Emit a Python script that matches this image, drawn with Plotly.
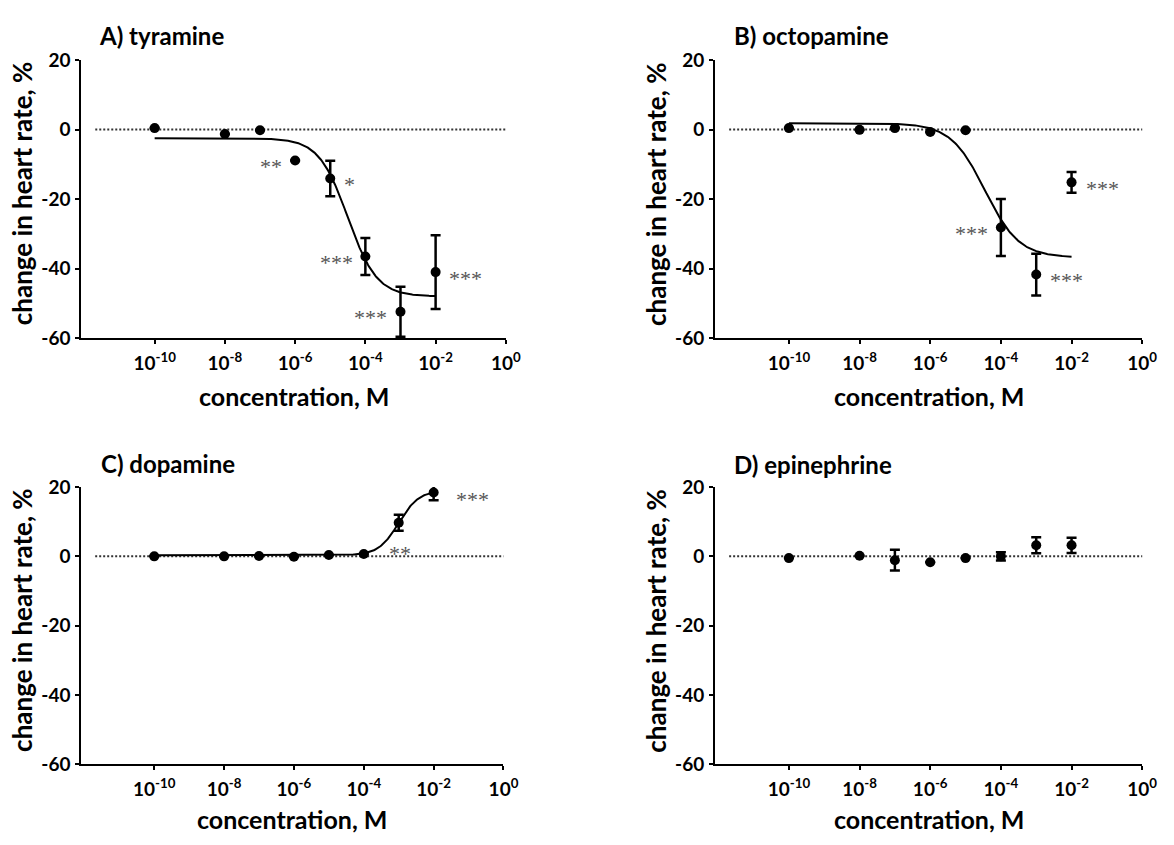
import numpy as np
import plotly.graph_objects as go

# ---------------- data ----------------
conc_log = [-10, -8, -7, -6, -5, -4, -3, -2]          # log10 concentration (M)

tyr_mean = [0.4, -1.3, -0.2, -8.9, -14.1, -36.5, -52.4, -41.0]
tyr_sem  = [0, 0, 0, 0, 5.1, 5.3, 7.2, 10.6]
oct_mean = [0.4, -0.1, 0.4, -0.7, -0.2, -28.2, -41.7, -15.2]
oct_sem  = [0, 0, 0, 0, 0, 8.2, 6.0, 3.0]
dop_mean = [0.0, 0.0, 0.1, -0.1, 0.4, 0.7, 9.7, 18.4]
dop_sem  = [0, 0, 0, 0, 0, 0, 2.3, 2.2]
epi_mean = [-0.5, 0.2, -1.1, -1.7, -0.5, 0.0, 3.2, 3.2]
epi_sem  = [0, 0, 3.0, 0, 0, 1.2, 2.3, 2.2]

# fitted dose-response: [left asymptote, right asymptote, logEC50, hill slope]
tyr_fit = [-2.5, -48.0, -4.5, 1.05]
oct_fit = [1.8, -36.8, -4.45, 0.9]
dop_fit = [0.3, 19.0, -3.0, 1.5]
fit_range = [-10, -2]

# significance labels: (log conc, y, text)
tyr_sig = [(-6.69, -8.9, "**"), (-4.46, -14.1, "*"), (-4.82, -36.5, "***"),
           (-3.86, -52.4, "***"), (-1.15, -41.0, "***")]
oct_sig = [(-1.12, -15.2, "***"), (-4.84, -28.2, "***"), (-2.14, -41.7, "***")]
dop_sig = [(-2.97, 2.5, "**"), (-0.88, 18.0, "***")]
epi_sig = []

panel_titles = ["A) tyramine", "B) octopamine", "C) dopamine", "D) epinephrine"]
tick_logs = [-10, -8, -6, -4, -2, 0]
y_ticks = [20, 0, -20, -40, -60]
x_title = "concentration, M"
y_title = "change in heart rate, %"

# ---------------- layout geometry (pixels) ----------------
W, H = 1174, 845
FONT = "Lato"
panels = [
    dict(mean=tyr_mean, sem=tyr_sem, fit=tyr_fit, sig=tyr_sig,
         x0=82.3, x1=512.4, y0=49.3, y1=335.3, tx=98, ty=23.7, xty=395),
    dict(mean=oct_mean, sem=oct_sem, fit=oct_fit, sig=oct_sig,
         x0=724.3, x1=1157.0, y0=49.3, y1=335.3, tx=741.5, ty=23.7, xty=395),
    dict(mean=dop_mean, sem=dop_sem, fit=dop_fit, sig=dop_sig,
         x0=82.3, x1=510.0, y0=488.3, y1=773.5, tx=100, ty=464.2, xty=830),
    dict(mean=epi_mean, sem=epi_sem, fit=None, sig=epi_sig,
         x0=724.3, x1=1157.0, y0=488.3, y1=773.5, tx=741.7, ty=464.7, xty=830),
]

fig = go.Figure()
annotations = []
shapes = []

for i, p in enumerate(panels):
    k = "" if i == 0 else str(i + 1)
    xa, ya = "x" + k, "y" + k
    xconc = [10.0 ** v for v in conc_log]

    # fitted curve
    if p["fit"] is not None:
        a, b, ec, h = p["fit"]
        xs = np.linspace(fit_range[0], fit_range[1], 300)
        ys = b + (a - b) / (1.0 + 10.0 ** ((xs - ec) * h))
        fig.add_trace(go.Scatter(x=10.0 ** xs, y=ys, mode="lines",
                                 line=dict(color="black", width=2),
                                 xaxis=xa, yaxis=ya, showlegend=False, hoverinfo="skip"))

    # points with error bars
    fig.add_trace(go.Scatter(
        x=xconc, y=p["mean"], mode="markers",
        marker=dict(color="black", size=10),
        error_y=dict(type="data", array=p["sem"], visible=True, color="black",
                     thickness=2.5, width=5),
        xaxis=xa, yaxis=ya, showlegend=False))

    # dotted zero line
    shapes.append(dict(type="line", xref=xa + " domain", yref=ya, x0=0.033, x1=1.0, y0=0, y1=0,
                       line=dict(color="#333333", width=2, dash="2px,2px"), layer="below"))

    dom_x = [p["x0"] / W, p["x1"] / W]
    dom_y = [1 - p["y1"] / H, 1 - p["y0"] / H]
    axis_common = dict(showline=True, linecolor="black", linewidth=2, showgrid=False,
                       zeroline=False, ticks="outside", ticklen=4, tickwidth=2,
                       tickcolor="black",
                       tickfont=dict(family=FONT, size=19, color="black", weight="bold"))
    fig.update_layout(**{
        ("xaxis" + k): dict(axis_common, domain=dom_x, type="log", range=[-12.09, 0],
                            tickvals=[10.0 ** t for t in tick_logs],
                            ticktext=["10<sup>%d</sup>" % t for t in tick_logs],
                            ticklabelstandoff=3, anchor=ya),
        ("yaxis" + k): dict(axis_common, domain=dom_y, range=[-60, 20],
                            tickvals=y_ticks, ticktext=[str(t) for t in y_ticks],
                            ticklabelstandoff=1, anchor=xa),
    })

    for (lx, yy, txt) in p["sig"]:
        annotations.append(dict(x=lx, y=yy, xref=xa, yref=ya, text=txt, showarrow=False,
                                font=dict(family="Liberation Serif", size=22, color="#555555"),
                                xanchor="center", yanchor="middle", yshift=-6))

    # panel title
    annotations.append(dict(x=p["tx"] / W, y=1 - p["ty"] / H, xref="paper", yref="paper",
                            text=panel_titles[i], showarrow=False, xanchor="left", yanchor="middle",
                            font=dict(family=FONT, size=24, color="black", weight="bold")))
    # axis titles
    annotations.append(dict(x=(p["x0"] + p["x1"]) / 2 / W, y=1 - p["xty"] / H,
                            xref="paper", yref="paper", text=x_title, showarrow=False,
                            xanchor="center", yanchor="middle",
                            font=dict(family=FONT, size=25, color="black", weight="bold")))
    annotations.append(dict(x=(p["x0"] - 60) / W, y=1 - ((p["y0"] + p["y1"]) / 2 - 5) / H,
                            xref="paper", yref="paper", text=y_title, showarrow=False,
                            textangle=-90, xanchor="center", yanchor="middle",
                            font=dict(family=FONT, size=26, color="black", weight="bold")))

fig.update_layout(width=W, height=H, margin=dict(l=0, r=0, t=0, b=0),
                  paper_bgcolor="white", plot_bgcolor="white",
                  annotations=annotations, shapes=shapes, showlegend=False)

fig.write_html("out.html")
